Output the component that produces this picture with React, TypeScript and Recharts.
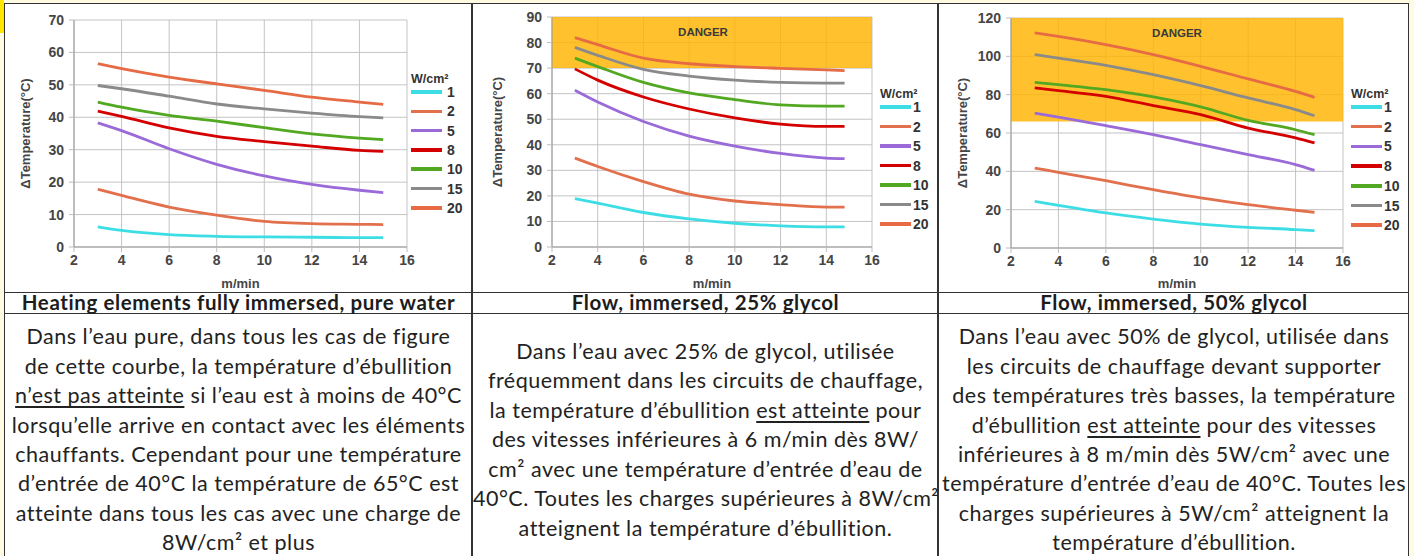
import React from 'react';
import { LineChart, Line, XAxis, YAxis, CartesianGrid, ReferenceArea } from 'recharts';

// speeds (m/min) where the curves were read
const speedsWater = [3, 4, 6, 8, 10, 12, 14, 15];
const speedsGlycol = [3, 4, 6, 8, 10, 12, 14, 14.8];
const speedTicks = [2, 4, 6, 8, 10, 12, 14, 16];

const loads = ['1', '2', '5', '8', '10', '15', '20'];
const loadColors = ['#3ddde6', '#e2704c', '#9a6ad9', '#d40000', '#52a821', '#8a8a8a', '#e66a44'];

// pure water
const water1 = [6.2, 5.1, 3.8, 3.3, 3.1, 3.0, 2.9, 2.9];
const water2 = [17.8, 15.9, 12.3, 9.8, 7.9, 7.2, 7.0, 6.9];
const water5 = [38.3, 35.9, 30.3, 25.5, 21.9, 19.3, 17.5, 16.8];
const water8 = [41.9, 40.3, 36.7, 34.1, 32.5, 31.1, 29.8, 29.5];
const water10 = [44.7, 43.1, 40.6, 38.8, 36.8, 34.9, 33.6, 33.1];
const water15 = [49.8, 48.8, 46.5, 44.1, 42.6, 41.3, 40.2, 39.8];
const water20 = [56.5, 55.0, 52.4, 50.3, 48.3, 46.2, 44.7, 44.0];

// 25% glycol
const glycol25w1 = [18.9, 17.2, 13.5, 11.0, 9.3, 8.3, 7.9, 7.9];
const glycol25w2 = [34.8, 31.5, 25.6, 20.7, 18.0, 16.6, 15.6, 15.6];
const glycol25w5 = [61.3, 56.7, 49.1, 43.4, 39.5, 36.6, 34.8, 34.6];
const glycol25w8 = [69.7, 65.3, 58.7, 54.0, 50.5, 48.1, 47.2, 47.2];
const glycol25w10 = [73.9, 70.6, 64.4, 60.3, 57.7, 55.6, 55.1, 55.1];
const glycol25w15 = [78.1, 75.0, 69.5, 66.9, 65.3, 64.4, 64.1, 64.1];
const glycol25w20 = [81.9, 79.2, 73.9, 71.7, 70.6, 69.9, 69.3, 69.0];

// 50% glycol
const glycol50w1 = [24.3, 22.3, 18.3, 15.1, 12.5, 10.8, 9.6, 9.0];
const glycol50w2 = [41.7, 39.5, 35.1, 30.4, 26.1, 22.6, 19.7, 18.6];
const glycol50w5 = [70.4, 68.3, 63.8, 59.1, 53.9, 48.7, 43.5, 40.5];
const glycol50w8 = [83.5, 82.1, 79.1, 74.3, 69.6, 62.6, 57.4, 54.8];
const glycol50w10 = [86.4, 85.2, 82.6, 78.8, 73.6, 66.6, 61.7, 59.1];
const glycol50w15 = [100.9, 99.1, 95.3, 90.4, 84.7, 78.3, 72.2, 69.0];
const glycol50w20 = [112.2, 110.4, 106.1, 100.9, 94.8, 88.2, 81.7, 78.6];

const ticks70 = [0, 10, 20, 30, 40, 50, 60, 70];
const ticks90 = [0, 10, 20, 30, 40, 50, 60, 70, 80, 90];
const ticks120 = [0, 20, 40, 60, 80, 100, 120];

const axisFont = '"Liberation Sans", Arial, sans-serif';
const textFont = 'Lato, "Open Sans", sans-serif';
const gridColor = '#bdbdbd';

function buildRows(speeds: number[], series: number[][]) {
  return speeds.map((x, i) => {
    const row: Record<string, number> = { x };
    series.forEach((s, k) => {
      row['w' + loads[k]] = s[i];
    });
    return row;
  });
}

const waterRows = buildRows(speedsWater, [water1, water2, water5, water8, water10, water15, water20]);
const glycol25Rows = buildRows(speedsGlycol, [
  glycol25w1, glycol25w2, glycol25w5, glycol25w8, glycol25w10, glycol25w15, glycol25w20,
]);
const glycol50Rows = buildRows(speedsGlycol, [
  glycol50w1, glycol50w2, glycol50w5, glycol50w8, glycol50w10, glycol50w15, glycol50w20,
]);

// title sits centred on titleY, first item centred on firstY
function LoadLegend({ left, titleY, firstY, gap, labelGap }: {
  left: number; titleY: number; firstY: number; gap: number; labelGap: number;
}) {
  return (
    <div style={{ position: 'absolute', left, top: 0, fontFamily: axisFont, fontWeight: 700, color: '#333' }}>
      <div style={{ position: 'absolute', left: 0, top: titleY - 6, fontSize: 12.5, lineHeight: '12px', whiteSpace: 'nowrap' }}>
        W/cm²
      </div>
      {loads.map((l, i) => (
        <div
          key={l}
          style={{ position: 'absolute', left: 0, top: firstY - 6 + i * gap, height: 12, display: 'flex', alignItems: 'center' }}
        >
          <div style={{ width: 31, height: 3.5, background: loadColors[i] }} />
          <span style={{ marginLeft: labelGap, fontSize: 14, lineHeight: '12px' }}>{l}</span>
        </div>
      ))}
    </div>
  );
}

type PanelProps = {
  left: number;
  width: number;
  top: number;
  yWidth: number;
  right: number;
  marginTop: number;
  xHeight: number;
  rows: Record<string, number>[];
  yMax: number;
  yTicks: number[];
  danger?: number;
  labelX: number;
  dangerDx?: number;
};

function Panel(p: PanelProps) {
  const tick = { fontSize: 14, fontWeight: 700, fill: '#454545', fontFamily: axisFont };
  return (
    <div style={{ position: 'absolute', left: p.left, top: p.top }}>
      <LineChart
        width={p.width}
        height={288}
        data={p.rows}
        margin={{ top: p.marginTop, right: p.right, bottom: 0, left: 0 }}
      >
        {p.danger !== undefined ? (
          // drawn above the grid, so it is kept slightly see-through to let the grid show
          <ReferenceArea
            y1={p.danger}
            y2={p.yMax}
            fill="#ffb400"
            fillOpacity={0.82}
            label={{
              value: 'DANGER',
              position: 'insideTop',
              offset: 11,
              dx: p.dangerDx ?? 0,
              style: { fontSize: 11.5, fontWeight: 700, fill: '#3a3a3a', fontFamily: axisFont },
            }}
          />
        ) : null}
        <CartesianGrid stroke={gridColor} strokeOpacity={0.9} />
        <XAxis
          dataKey="x"
          type="number"
          domain={[2, 16]}
          ticks={speedTicks}
          height={p.xHeight}
          tick={tick}
          tickSize={5}
          tickMargin={3}
          tickLine={{ stroke: gridColor }}
          axisLine={{ stroke: '#999' }}
          label={{
            value: 'm/min',
            position: 'insideBottom',
            offset: 4,
            style: { fontSize: 13, fontWeight: 700, fill: '#454545', fontFamily: axisFont },
          }}
        />
        <YAxis
          type="number"
          domain={[0, p.yMax]}
          ticks={p.yTicks}
          width={p.yWidth}
          tick={tick}
          tickSize={5}
          tickMargin={5}
          tickLine={{ stroke: gridColor }}
          axisLine={{ stroke: '#999' }}
          label={{
            value: 'ΔTemperature(°C)',
            angle: -90,
            position: 'insideLeft',
            offset: p.labelX,
            style: { fontSize: 13, fontWeight: 700, fill: '#454545', fontFamily: axisFont, textAnchor: 'middle' },
          }}
        />
        {loads.map((l, i) => (
          <Line
            key={l}
            dataKey={'w' + l}
            type="monotone"
            stroke={loadColors[i]}
            strokeWidth={2.8}
            dot={false}
            isAnimationActive={false}
          />
        ))}
      </LineChart>
    </div>
  );
}

const u = (s: string) => <span style={{ textDecoration: 'underline', textUnderlineOffset: 3 }}>{s}</span>;

const waterText: React.ReactNode[] = [
  'Dans l’eau pure, dans tous les cas de figure',
  'de cette courbe, la température d’ébullition',
  <>{u('n’est pas atteinte')} si l’eau est à moins de 40°C</>,
  'lorsqu’elle arrive en contact avec les éléments',
  'chauffants. Cependant pour une température',
  'd’entrée de 40°C la température de 65°C est',
  'atteinte dans tous les cas avec une charge de',
  '8W/cm² et plus',
];
const glycol25Text: React.ReactNode[] = [
  'Dans l’eau avec 25% de glycol, utilisée',
  'fréquemment dans les circuits de chauffage,',
  <>la température d’ébullition {u('est atteinte')} pour</>,
  'des vitesses inférieures à 6 m/min dès 8W/',
  'cm² avec une température d’entrée d’eau de',
  '40°C. Toutes les charges supérieures à 8W/cm²',
  'atteignent la température d’ébullition.',
];
const glycol50Text: React.ReactNode[] = [
  'Dans l’eau avec 50% de glycol, utilisée dans',
  'les circuits de chauffage devant supporter',
  'des températures très basses, la température',
  <>d’ébullition {u('est atteinte')} pour des vitesses</>,
  'inférieures à 8 m/min dès 5W/cm² avec une',
  'température d’entrée d’eau de 40°C. Toutes les',
  'charges supérieures à 5W/cm² atteignent la',
  'température d’ébullition.',
];

const titles = [
  'Heating elements fully immersed, pure water',
  'Flow, immersed, 25% glycol',
  'Flow, immersed, 50% glycol',
];
const columns = [
  { left: 5, width: 467 },
  { left: 473, width: 465 },
  { left: 940, width: 468 },
];

export default function App() {
  const texts = [waterText, glycol25Text, glycol50Text];
  return (
    <div
      style={{
        position: 'absolute',
        left: 0,
        top: 0,
        width: 1414,
        height: 556,
        overflow: 'hidden',
        background: '#fffbe3',
      }}
    >
      <div style={{ position: 'absolute', left: 0, top: 0, width: 4, height: 33, background: '#ffe600' }} />
      <div
        style={{
          position: 'absolute',
          left: 4,
          top: 3,
          width: 1405,
          height: 600,
          background: '#fff',
          borderLeft: '1.5px solid #333',
          borderRight: '1.5px solid #333',
          borderTop: '1px solid #333',
          boxSizing: 'border-box',
        }}
      />
      <div style={{ position: 'absolute', left: 471, top: 3, width: 2, height: 600, background: '#333' }} />
      <div style={{ position: 'absolute', left: 937, top: 3, width: 2, height: 600, background: '#333' }} />
      <div style={{ position: 'absolute', left: 4, top: 292, width: 1405, height: 1, background: '#333' }} />
      <div style={{ position: 'absolute', left: 4, top: 313, width: 1405, height: 1, background: '#333' }} />

      <Panel left={5} width={466} top={4} yWidth={69} right={64} marginTop={16} xHeight={45}
        rows={waterRows} yMax={70} yTicks={ticks70} labelX={20} />
      <Panel left={473} width={464} top={4} yWidth={79} right={65} marginTop={13} xHeight={45}
        rows={glycol25Rows} yMax={90} yTicks={ticks90} danger={70} labelX={24} dangerDx={-9} />
      <Panel left={940} width={468} top={4} yWidth={71} right={65} marginTop={14} xHeight={44}
        rows={glycol50Rows} yMax={120} yTicks={ticks120} danger={66} labelX={22} />

      <LoadLegend left={411} titleY={79} firstY={92} gap={19.3} labelGap={5} />
      <LoadLegend left={880} titleY={94} firstY={107} gap={19.5} labelGap={2} />
      <LoadLegend left={1351} titleY={94} firstY={107} gap={19.7} labelGap={2} />

      {columns.map((c, i) => (
        <React.Fragment key={i}>
          <div
            style={{
              position: 'absolute',
              left: c.left,
              top: 292,
              width: c.width,
              height: 21,
              lineHeight: '21px',
              textAlign: 'center',
              fontFamily: textFont,
              fontWeight: 700,
              fontSize: 20.5,
              letterSpacing: 0.6,
              color: '#1c1c1c',
              whiteSpace: 'nowrap',
            }}
          >
            {titles[i]}
          </div>
          <div
            style={{
              position: 'absolute',
              left: c.left,
              top: 314,
              width: c.width,
              height: 252,
              display: 'flex',
              flexDirection: 'column',
              justifyContent: 'center',
              textAlign: 'center',
              fontFamily: textFont,
              fontSize: 21.5,
              letterSpacing: 0.5,
              lineHeight: '29.4px',
              color: '#222',
              whiteSpace: 'nowrap',
            }}
          >
            {texts[i].map((line, k) => (
              <div key={k}>{line}</div>
            ))}
          </div>
        </React.Fragment>
      ))}
    </div>
  );
}
